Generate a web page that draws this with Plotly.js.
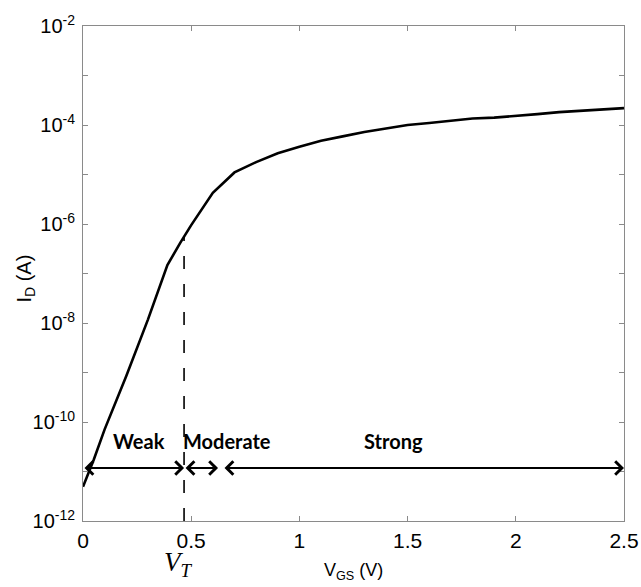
<!DOCTYPE html>
<html><head><meta charset="utf-8">
<script src="https://cdn.plot.ly/plotly-3.0.1.min.js"></script>
<style>html,body{margin:0;padding:0;background:#fff}#chart{width:641px;height:587px}</style>
</head><body><div id="chart"></div>
<script>
// Drain current vs gate-source voltage
const vgs = [0, 0.05, 0.1, 0.2, 0.3, 0.39, 0.45, 0.5, 0.6, 0.7, 0.8, 0.9, 1.0, 1.1, 1.2, 1.3, 1.4, 1.5, 1.6, 1.7, 1.8, 1.9, 2.0, 2.1, 2.2, 2.3, 2.4, 2.5];
const idA = [4.9e-12, 1.75e-11, 7.1e-11, 8.5e-10, 1.17e-8, 1.48e-7, 4.2e-7, 9.5e-7, 4.27e-6, 1.1e-5, 1.78e-5, 2.69e-5, 3.63e-5, 4.79e-5, 5.89e-5, 7.24e-5, 8.5e-5, 1.0e-4, 1.1e-4, 1.2e-4, 1.35e-4, 1.41e-4, 1.51e-4, 1.66e-4, 1.82e-4, 1.95e-4, 2.04e-4, 2.19e-4];

// Threshold voltage marker
const vt = 0.467;
const vtDashY = [1e-12, 5.5e-7];

// Operating regions
const regionNames = ['Weak', 'Moderate', 'Strong'];
const regionStart = [0, 0.467, 0.647];
const regionEnd = [0.467, 0.624, 2.5];
const regionLabelX = [0.26, 0.665, 1.434];
const arrowLevel = 1.18e-11;
const labelLevel = 4.2e-11;

// Ticks
const yTickVals = [1e-12, 1e-11, 1e-10, 1e-9, 1e-8, 1e-7, 1e-6, 1e-5, 1e-4, 1e-3, 1e-2];
const yTickText = ['10<sup>-12</sup>', '', '10<sup>-10</sup>', '', '10<sup>-8</sup>', '', '10<sup>-6</sup>', '', '10<sup>-4</sup>', '', '10<sup>-2</sup>'];
const xTickVals = [0, 0.5, 1, 1.5, 2, 2.5];
const xTickText = ['0', '0.5', '1', '1.5', '2', '2.5'];

const traces = [
  {x: vgs, y: idA, type: 'scatter', mode: 'lines', line: {color: '#000', width: 2.6}, hoverinfo: 'skip'},
  {x: [vt, vt], y: vtDashY, type: 'scatter', mode: 'lines', line: {color: '#000', width: 1.6, dash: '13px,15px'}, hoverinfo: 'skip'}
];

const sans = '"Liberation Sans", Arial, sans-serif';
const annotations = [];
const lvl = Math.log10(arrowLevel);
for (let i = 0; i < regionNames.length; i++) {
  annotations.push({
    x: regionEnd[i], y: lvl, ax: regionStart[i], ay: lvl,
    xref: 'x', yref: 'y', axref: 'x', ayref: 'y',
    text: '', showarrow: true, arrowside: 'end+start',
    arrowhead: 4, startarrowhead: 4, arrowsize: 1.3, startarrowsize: 1.3,
    arrowwidth: 2, arrowcolor: '#000', standoff: 0, startstandoff: 0
  });
  annotations.push({
    x: regionLabelX[i], y: Math.log10(labelLevel), xref: 'x', yref: 'y',
    text: '<b>' + regionNames[i] + '</b>', showarrow: false,
    font: {family: 'Lato, "Open Sans", sans-serif', size: 20, color: '#000'}
  });
}
annotations.push({
  x: 0.44, y: -0.086, xref: 'x', yref: 'paper', yanchor: 'middle',
  text: '<i>V<sub>T</sub></i>', showarrow: false,
  font: {family: '"Liberation Serif", "DejaVu Serif", serif', size: 27, color: '#000'}
});
// axis titles
annotations.push({
  x: -0.107, y: 0.49, xref: 'paper', yref: 'paper', xanchor: 'center', yanchor: 'middle',
  text: 'I<sub>D</sub> (A)', textangle: -90, showarrow: false,
  font: {family: sans, size: 20, color: '#000'}
});
annotations.push({
  x: 0.5, y: -0.103, xref: 'paper', yref: 'paper', xanchor: 'center', yanchor: 'middle',
  text: 'V<sub>GS</sub> (V)', showarrow: false,
  font: {family: sans, size: 18, color: '#000'}
});

const axCommon = {
  showline: true, mirror: 'ticks', linecolor: '#8a8a8a', linewidth: 1,
  ticks: 'inside', ticklen: 5, tickcolor: '#8a8a8a', tickwidth: 1,
  showgrid: false, zeroline: false
};

const layout = {
  width: 641, height: 587,
  margin: {l: 83, r: 17, t: 26, b: 66},
  paper_bgcolor: '#fff', plot_bgcolor: '#fff',
  showlegend: false,
  xaxis: Object.assign({}, axCommon, {
    range: [0, 2.5], tickvals: xTickVals, ticktext: xTickText, ticklabelstandoff: 1,
    tickfont: {family: sans, size: 21, color: '#000'}
  }),
  yaxis: Object.assign({}, axCommon, {
    type: 'log', range: [-12, -2], tickvals: yTickVals, ticktext: yTickText, ticklabelstandoff: 3,
    tickfont: {family: sans, size: 20, color: '#000'}
  }),
  annotations: annotations
};

Plotly.newPlot('chart', traces, layout, {displayModeBar: false, staticPlot: true});
</script>
</body></html>
